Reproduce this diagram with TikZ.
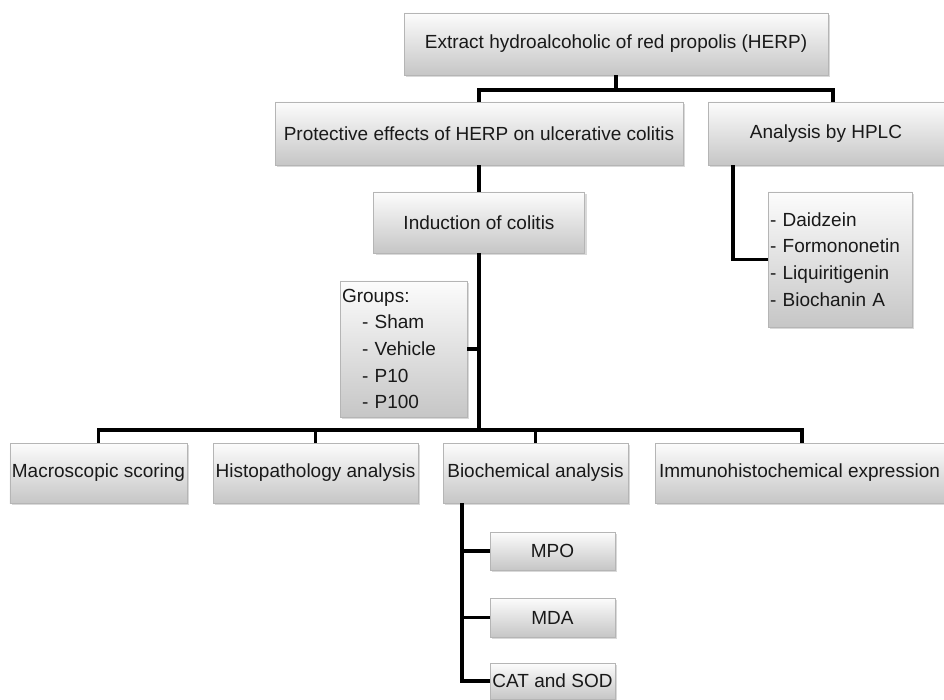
\documentclass[tikz,border=0pt]{standalone}
\usepackage{fontspec}
\setmainfont{Liberation Sans}
\usetikzlibrary{positioning,shadows,calc}
\definecolor{edge}{HTML}{B5B5B5}
\definecolor{boxtop}{HTML}{FCFCFC}
\definecolor{boxbot}{HTML}{C6C6C6}
\tikzset{
  box/.style={draw=edge,line width=0.8pt,top color=boxtop,bottom color=boxbot,
    font=\fontsize{19}{22}\selectfont,align=center,inner sep=2pt,text=black!90,
    drop shadow={shadow xshift=2pt,shadow yshift=-2pt,opacity=0.3}},
  listbox/.style={box,align=left,font=\fontsize{19}{26.7}\selectfont},
  link/.style={line width=3.2pt,draw=black},
}

\begin{document}
\begin{tikzpicture}[x=1pt,y=-1pt]
  \useasboundingbox (0,0) rectangle (944,700);
  % top levels
  \node[box,minimum width=424pt,minimum height=62pt] (herp) at (616,44) {Extract hydroalcoholic of red propolis (HERP)};
  \node[box,minimum width=408pt,minimum height=63pt] (protect) at (479,133.5) {Protective effects of HERP on ulcerative colitis};
  \node[box,minimum width=236pt,minimum height=63pt] (hplc) at (826,133.5) {Analysis by HPLC};
  \node[listbox,text width=140pt,minimum height=135pt] (hplclist) at (840,259.5) {- Daidzein\\- Formononetin\\- Liquiritigenin\\- Biochanin A};
  \node[box,minimum width=211pt,minimum height=61pt] (induct) at (479,222.5) {Induction of colitis};
  \node[listbox,text width=123pt,minimum height=136pt] (groups) at (403.5,349) {Groups:\\\hspace*{20pt}- Sham\\\hspace*{20pt}- Vehicle\\\hspace*{20pt}- P10\\\hspace*{20pt}- P100};
  % analyses
  \node[box,minimum width=177pt,minimum height=60pt] (macro) at (98.5,473) {Macroscopic scoring};
  \node[box,minimum width=205pt,minimum height=60pt] (histo) at (315.5,473) {Histopathology analysis};
  \node[box,minimum width=185pt,minimum height=60pt] (bioch) at (535.5,473) {Biochemical analysis};
  \node[box,minimum width=289pt,minimum height=60pt] (immuno) at (799.5,473) {Immunohistochemical expression};
  \node[box,minimum width=125pt,minimum height=38pt] (mpo) at (552.5,551) {MPO};
  \node[box,minimum width=125pt,minimum height=39pt] (mda) at (552.5,617.5) {MDA};
  \node[box,minimum width=125pt,minimum height=36pt] (catsod) at (552.5,681) {CAT and SOD};
  % connectors
  \coordinate (topbar) at (0,90);
  \coordinate (midbar) at (0,430);
  \draw[link] (herp.south) -- (herp.south |- topbar);
  \draw[link] (protect.north) |- ([xshift=7pt]hplc.north |- topbar) -- ([xshift=7pt]hplc.north);
  \draw[link] (protect.south) -- (induct.north);
  \draw[link] ([xshift=-93pt]hplc.south) |- (hplclist.west);
  \draw[link] (induct.south) -- (induct.south |- midbar);
  \draw[link] (groups.east) -- (groups.east -| induct.south);
  \draw[link] (macro.north) |- ([xshift=2.5pt]immuno.north |- midbar) -- ([xshift=2.5pt]immuno.north);
  \foreach \n in {histo,bioch} \draw[link] (\n.north) -- (\n.north |- midbar);
  \coordinate (spine) at ([xshift=-73.5pt]bioch.south);
  \draw[link] (spine) |- (catsod.west);
  \foreach \n in {mpo,mda} \draw[link] (\n.west) -- (\n.west -| spine);
\end{tikzpicture}
\end{document}
